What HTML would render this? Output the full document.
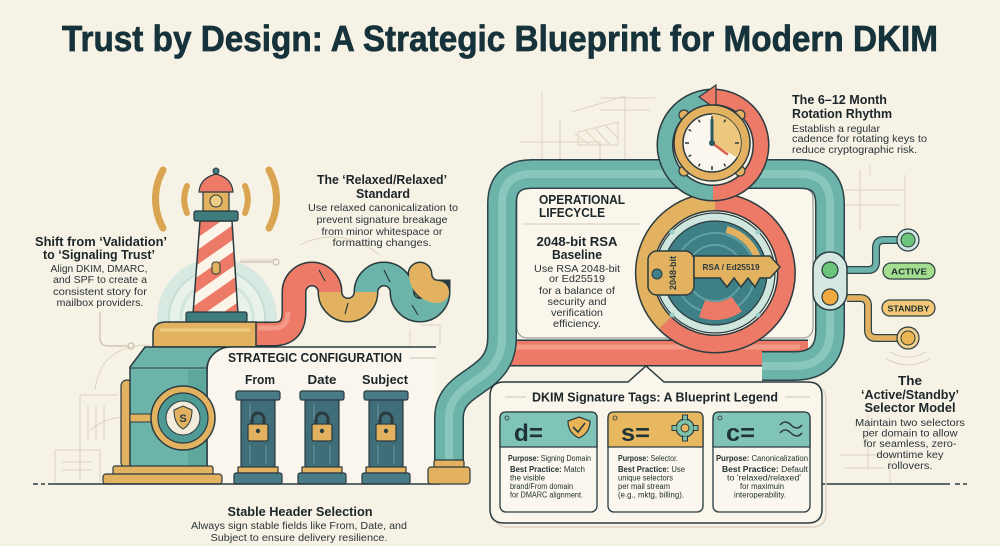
<!DOCTYPE html>
<html><head><meta charset="utf-8"><style>
html,body{margin:0;padding:0;background:#f7f2e6;width:1000px;height:546px;overflow:hidden;}
svg{display:block;font-family:"Liberation Sans",Arial,sans-serif;}
.h{font-weight:bold;font-size:13px;fill:#1c2629;}
.d{font-size:10.5px;fill:#2a3336;}
.c{font-size:7.8px;fill:#22302f;}
.b{font-weight:bold;}
</style></head><body>
<svg width="1000" height="546" viewBox="0 0 1000 546" xmlns="http://www.w3.org/2000/svg">
<defs>
<pattern id="st" width="22" height="22" patternUnits="userSpaceOnUse" patternTransform="rotate(-35)">
<rect width="22" height="22" fill="#ec7a66"/><rect width="22" height="10" fill="#fbf4e8"/>
</pattern>
</defs>
<rect width="1000" height="546" fill="#f7f2e6"/>

<!-- faint blueprint sketches -->
<g fill="none" stroke="#ddd3c1" stroke-width="1">
<path d="M542 92 L542 160 M520 142 L600 142 L600 160 M572 112 L625 96 L625 160 M578 132 L618 122 L618 145 L578 145 Z M600 98 L655 98 M600 110 L650 110 M560 120 L560 160"/>
<path d="M575 134 L590 145 M585 130 L600 145 M595 128 L610 145 M605 125 L618 138"/>
<path d="M860 170 L860 230 M845 190 L905 190 M845 205 L900 205 M905 175 L905 235 M870 165 L870 175"/>
<path d="M80 395 L80 480 M80 395 L118 395 M88 405 L88 440 M96 405 L96 440 M104 405 L104 440 M55 450 L100 450 L100 482 M55 450 L55 482 M62 462 L92 462 M62 470 L92 470"/>
<path d="M95 390 Q100 345 150 345 M90 430 Q110 415 128 418"/>
<path d="M240 260 L276 260 M300 245 Q340 225 380 255 M410 330 L410 380 M420 325 L440 325 L440 345"/>
<path d="M525 300 L525 335 L600 335 M700 300 L780 300"/>
<path d="M868 415 L868 470 M840 455 L890 455 L890 484 M845 468 L885 468"/>
<path d="M760 420 L760 460 M300 380 Q300 400 310 405"/>
</g>
<g fill="none" stroke="#c9bfae" stroke-width="1.2">
<path d="M100 312 L100 338 Q100 346 108 346 L128 346"/>
<circle cx="131" cy="346" r="3"/>
<path d="M240 262 L272 262"/><circle cx="276" cy="262" r="3"/>
<path d="M419 450 L419 476"/><circle cx="419" cy="480" r="3"/>
</g>

<!-- Title -->
<text x="500" y="51" text-anchor="middle" font-size="36" font-weight="bold" fill="#16323a" stroke="#16323a" stroke-width="0.7" textLength="876" lengthAdjust="spacingAndGlyphs">Trust by Design: A Strategic Blueprint for Modern DKIM</text>

<!-- Lighthouse halo -->
<circle cx="217" cy="318" r="60" fill="#d8e9e1"/>
<circle cx="217" cy="318" r="48" fill="#e8f1ea" stroke="#c6ded5" stroke-width="2"/>
<circle cx="217" cy="318" r="36" fill="none" stroke="#d2e5de" stroke-width="3"/>

<!-- signal arcs -->
<g fill="none" stroke="#d9a551" stroke-linecap="round">
<path d="M163 170 A60 60 0 0 0 163 228" stroke-width="7"/>
<path d="M187 186 A35 35 0 0 0 187 213" stroke-width="6"/>
<path d="M269 170 A60 60 0 0 1 269 228" stroke-width="7"/>
<path d="M245 186 A35 35 0 0 1 245 213" stroke-width="6"/>
</g>

<!-- Lighthouse -->
<polygon points="200,221 232,221 238,314 193,314" fill="url(#st)" stroke="#2a3b3f" stroke-width="1.5"/>
<rect x="212" y="262" width="8" height="12" rx="3" fill="#e2b261" stroke="#2a3b3f" stroke-width="1"/>
<rect x="194" y="211" width="44" height="10" rx="2" fill="#3f7c7e" stroke="#2a3b3f" stroke-width="1.2"/>
<rect x="203" y="191" width="26" height="20" fill="#e2b261" stroke="#2a3b3f" stroke-width="1.2"/>
<circle cx="216" cy="201" r="6" fill="#f0cd85" stroke="#2a3b3f" stroke-width="1"/>
<path d="M199 192 Q200 178 216 174 Q232 178 233 192 Z" fill="#ec7a66" stroke="#2a3b3f" stroke-width="1.2"/>
<circle cx="216" cy="171" r="3" fill="#3f7c7e" stroke="#2a3b3f" stroke-width="1"/>
<rect x="186" y="312" width="61" height="10" rx="2" fill="#3f7c7e" stroke="#2a3b3f" stroke-width="1.2"/>

<!-- Coral chain (drawn before platform) -->
<path d="M240 334 L274 334 Q294 334 294 312 L294 292 A18 18 0 0 1 330 292 A18 18 0 0 0 366 292 A18 18 0 0 1 402 292 A18 18 0 0 0 438 292 A18 18 0 0 1 420 274" fill="none" stroke="#2a3b3f" stroke-width="25" stroke-linecap="round"/>
<path d="M240 334 L274 334 Q294 334 294 312 L294 292 A18 18 0 0 1 330 292" fill="none" stroke="#ec7a66" stroke-width="22"/>
<path d="M330 292 A18 18 0 0 0 366 292" fill="none" stroke="#e2b261" stroke-width="22"/>
<path d="M366 292 A18 18 0 0 1 402 292 A18 18 0 0 0 438 292" fill="none" stroke="#6cb3a9" stroke-width="22"/>
<path d="M438 292 A18 18 0 0 1 420 274" fill="none" stroke="#e2b261" stroke-width="22" stroke-linecap="round"/>
<path d="M258 328 L274 328 Q288 328 288 312" fill="none" stroke="#f49b87" stroke-width="5"/>
<g stroke="#2a3b3f" stroke-width="1.2"><path d="M319 270 L325 281 M348 303 L345 314 M384 270 L390 282 M412 305 L418 315"/></g>

<!-- Platform -->
<path d="M153 347 L153 334 Q153 322 166 322 L256 322 L256 347 Z" fill="#e2b261" stroke="#2a3b3f" stroke-width="1.5"/>
<path d="M160 330 L250 330" stroke="#f0cd85" stroke-width="3"/>

<!-- Strategic panel -->
<path d="M207 484 L207 372 Q207 347 232 347 L436 347 L436 484 Z" fill="#faf6ee"/>
<path d="M207 484 L207 372 Q207 347 232 347 L436 347" fill="none" stroke="#2a3b3f" stroke-width="1.5"/>
<path d="M410 358 L436 358" stroke="#cfc5b3" stroke-width="1"/>

<!-- Machine -->
<rect x="121" y="380" width="12" height="88" rx="6" fill="#e2b261" stroke="#2a3b3f" stroke-width="1.2"/>
<path d="M130 367 L145 347 L226 347 Q210 352 207 366 L207 467 L130 467 Z" fill="#6cb3a9" stroke="#2a3b3f" stroke-width="1.5"/>
<path d="M130 368 L207 368" stroke="#2a3b3f" stroke-width="1"/>
<rect x="188" y="370" width="18" height="96" fill="#5ea79d"/>
<rect x="130" y="414" width="24" height="8" fill="#e2b261" stroke="#2a3b3f" stroke-width="1"/>
<circle cx="183" cy="418" r="32" fill="#e2b261" stroke="#2a3b3f" stroke-width="1.5"/>
<circle cx="183" cy="418" r="25" fill="#4f9a95" stroke="#2a3b3f" stroke-width="1.2"/>
<circle cx="183" cy="418" r="17" fill="#f3ecdc" stroke="#2a3b3f" stroke-width="1"/>
<path d="M174 410 L183 406 L192 410 Q192 424 183 429 Q174 424 174 410 Z" fill="#e2b261" stroke="#2a3b3f" stroke-width="1"/>
<text x="183" y="422" text-anchor="middle" font-size="11" font-weight="bold" fill="#2a3b3f">S</text>
<rect x="113" y="466" width="100" height="9" rx="2" fill="#e2b261" stroke="#2a3b3f" stroke-width="1.2"/>
<rect x="103" y="474" width="119" height="10" rx="3" fill="#e2b261" stroke="#2a3b3f" stroke-width="1.2"/>

<!-- Pillars -->
<g stroke="#2a3b3f" stroke-width="1.2">
<g>
<rect x="236" y="391" width="44" height="9" rx="2" fill="#4a7c88"/>
<rect x="241" y="400" width="34" height="68" fill="#3f6e7a"/>
<rect x="238" y="467" width="40" height="6" fill="#e2b261"/>
<rect x="234" y="473" width="48" height="11" rx="2" fill="#4a7c88"/>
<path d="M252 424 L252 419 A6 6 0 0 1 264 419 L264 424" fill="none" stroke-width="3"/>
<rect x="248" y="424" width="20" height="17" rx="2" fill="#e2b261"/>
</g>
<g>
<rect x="300" y="391" width="44" height="9" rx="2" fill="#4a7c88"/>
<rect x="305" y="400" width="34" height="68" fill="#3f6e7a"/>
<rect x="302" y="467" width="40" height="6" fill="#e2b261"/>
<rect x="298" y="473" width="48" height="11" rx="2" fill="#4a7c88"/>
<path d="M316 424 L316 419 A6 6 0 0 1 328 419 L328 424" fill="none" stroke-width="3"/>
<rect x="312" y="424" width="20" height="17" rx="2" fill="#e2b261"/>
</g>
<g>
<rect x="364" y="391" width="44" height="9" rx="2" fill="#4a7c88"/>
<rect x="369" y="400" width="34" height="68" fill="#3f6e7a"/>
<rect x="366" y="467" width="40" height="6" fill="#e2b261"/>
<rect x="362" y="473" width="48" height="11" rx="2" fill="#4a7c88"/>
<path d="M380 424 L380 419 A6 6 0 0 1 392 419 L392 424" fill="none" stroke-width="3"/>
<rect x="376" y="424" width="20" height="17" rx="2" fill="#e2b261"/>
</g>
</g>
<g fill="#2a3b3f"><circle cx="258" cy="431" r="2.2"/><circle cx="322" cy="431" r="2.2"/><circle cx="386" cy="431" r="2.2"/></g>
<g stroke="#5b8a94" stroke-width="1.5"><path d="M250 404 L250 420 M250 445 L250 464 M266 445 L266 464 M314 404 L314 420 M314 445 L314 464 M330 445 L330 464 M378 404 L378 420 M378 445 L378 464 M394 445 L394 464"/></g>

<!-- baselines -->
<path d="M48 484 L440 484" stroke="#2a3b3f" stroke-width="1.5"/>
<path d="M33 484 L38 484 M41 484 L45 484" stroke="#2a3b3f" stroke-width="1.5"/>
<path d="M822 484 L950 484" stroke="#2a3b3f" stroke-width="1.5"/>
<path d="M955 484 L960 484 M963 484 L967 484" stroke="#2a3b3f" stroke-width="1.5"/>

<!-- Strategic texts -->
<text x="228" y="362" font-size="12.5" font-weight="bold" fill="#1c2629" textLength="174" lengthAdjust="spacingAndGlyphs">STRATEGIC CONFIGURATION</text>
<text x="260" y="384" text-anchor="middle" class="h" font-size="12" textLength="30" lengthAdjust="spacingAndGlyphs">From</text>
<text x="322" y="384" text-anchor="middle" class="h" font-size="12" textLength="29" lengthAdjust="spacingAndGlyphs">Date</text>
<text x="385" y="384" text-anchor="middle" class="h" font-size="12" textLength="46" lengthAdjust="spacingAndGlyphs">Subject</text>
<text x="300" y="516" text-anchor="middle" class="h" textLength="145" lengthAdjust="spacingAndGlyphs">Stable Header Selection</text>
<text x="299" y="529" text-anchor="middle" class="d" textLength="216" lengthAdjust="spacingAndGlyphs">Always sign stable fields like From, Date, and</text>
<text x="299" y="541" text-anchor="middle" class="d" textLength="177" lengthAdjust="spacingAndGlyphs">Subject to ensure delivery resilience.</text>

<!-- Left texts -->
<text x="101" y="246" text-anchor="middle" class="h" textLength="132" lengthAdjust="spacingAndGlyphs">Shift from ‘Validation’</text>
<text x="99" y="259" text-anchor="middle" class="h" textLength="112" lengthAdjust="spacingAndGlyphs">to ‘Signaling Trust’</text>
<text x="99" y="272" text-anchor="middle" class="d" textLength="97" lengthAdjust="spacingAndGlyphs">Align DKIM, DMARC,</text>
<text x="100" y="283" text-anchor="middle" class="d" textLength="94" lengthAdjust="spacingAndGlyphs">and SPF to create a</text>
<text x="100" y="295" text-anchor="middle" class="d" textLength="94" lengthAdjust="spacingAndGlyphs">consistent story for</text>
<text x="100" y="306" text-anchor="middle" class="d" textLength="87" lengthAdjust="spacingAndGlyphs">mailbox providers.</text>

<!-- Relaxed texts -->
<text x="382" y="184" text-anchor="middle" class="h" textLength="130" lengthAdjust="spacingAndGlyphs">The ‘Relaxed/Relaxed’</text>
<text x="383" y="198" text-anchor="middle" class="h" textLength="54" lengthAdjust="spacingAndGlyphs">Standard</text>
<text x="383" y="211" text-anchor="middle" class="d" textLength="150" lengthAdjust="spacingAndGlyphs">Use relaxed canonicalization to</text>
<text x="382" y="223" text-anchor="middle" class="d" textLength="131" lengthAdjust="spacingAndGlyphs">prevent signature breakage</text>
<text x="382" y="235" text-anchor="middle" class="d" textLength="121" lengthAdjust="spacingAndGlyphs">from minor whitespace or</text>
<text x="382" y="246" text-anchor="middle" class="d" textLength="99" lengthAdjust="spacingAndGlyphs">formatting changes.</text>

<!-- Operational panel -->
<rect x="517" y="188" width="296" height="150" rx="10" fill="#faf6ec" stroke="#7d8a88" stroke-width="1"/>
<path d="M522 224 L640 224" stroke="#d6ccba" stroke-width="1"/>

<!-- coral band -->
<path d="M500 353 L808 353" stroke="#2a3b3f" stroke-width="27"/>
<path d="M500 353 L808 353" stroke="#ec7a66" stroke-width="24"/>
<path d="M500 347 L800 347" stroke="#f49b87" stroke-width="5"/>

<!-- teal pipe -->
<path d="M449 470 L449 418 C449 378 502 385 502 338 L502 204 Q502 174 532 174 L800 174 Q830 174 830 204 L830 330 Q830 366 794 366 L762 366" fill="none" stroke="#2a4448" stroke-width="30"/>
<path d="M449 470 L449 418 C449 378 502 385 502 338 L502 204 Q502 174 532 174 L800 174 Q830 174 830 204 L830 330 Q830 366 794 366 L762 366" fill="none" stroke="#6cb3a9" stroke-width="27"/>
<path d="M449 470 L449 418 C449 378 502 385 502 338 L502 204 Q502 174 532 174 L800 174 Q830 174 830 204 L830 330 Q830 366 794 366 L762 366" fill="none" stroke="#95d0c6" stroke-width="8" opacity="0.7"/>
<rect x="434" y="460" width="30" height="8" rx="2" fill="#e2b261" stroke="#2a3b3f" stroke-width="1.2"/>
<rect x="428" y="467" width="42" height="17" rx="3" fill="#e2b261" stroke="#2a3b3f" stroke-width="1.2"/>

<!-- Operational texts -->
<text x="539" y="204" class="h" textLength="86" lengthAdjust="spacingAndGlyphs">OPERATIONAL</text>
<text x="539" y="217" class="h" textLength="66" lengthAdjust="spacingAndGlyphs">LIFECYCLE</text>
<text x="577" y="246" text-anchor="middle" class="h" textLength="81" lengthAdjust="spacingAndGlyphs">2048-bit RSA</text>
<text x="577" y="259" text-anchor="middle" class="h" textLength="50" lengthAdjust="spacingAndGlyphs">Baseline</text>
<text x="577" y="272" text-anchor="middle" class="d" textLength="86" lengthAdjust="spacingAndGlyphs">Use RSA 2048-bit</text>
<text x="577" y="282" text-anchor="middle" class="d" textLength="56" lengthAdjust="spacingAndGlyphs">or Ed25519</text>
<text x="577" y="294" text-anchor="middle" class="d" textLength="76" lengthAdjust="spacingAndGlyphs">for a balance of</text>
<text x="577" y="305" text-anchor="middle" class="d" textLength="59" lengthAdjust="spacingAndGlyphs">security and</text>
<text x="577" y="316" text-anchor="middle" class="d" textLength="52" lengthAdjust="spacingAndGlyphs">verification</text>
<text x="577" y="327" text-anchor="middle" class="d" textLength="48" lengthAdjust="spacingAndGlyphs">efficiency.</text>

<!-- Bottom ring of 8 -->
<circle cx="715" cy="273" r="62" fill="#f7f2e6"/>
<path d="M715 202 A71 71 0 1 1 665 323" fill="none" stroke="#2a3b3f" stroke-width="19"/>
<path d="M665 323 A71 71 0 0 1 715 202" fill="none" stroke="#2a3b3f" stroke-width="19"/>
<path d="M715 202 A71 71 0 1 1 665 323" fill="none" stroke="#ec7a66" stroke-width="16"/>
<path d="M665 323 A71 71 0 0 1 715 202" fill="none" stroke="#e2b261" stroke-width="16"/>
<circle cx="715" cy="273" r="60" fill="#cfe6df" stroke="#2a3b3f" stroke-width="1.2"/>
<circle cx="715" cy="273" r="52" fill="#3f7f86" stroke="#2a3b3f" stroke-width="1.2"/>
<circle cx="715" cy="273" r="40" fill="none" stroke="#62a1a3" stroke-width="2"/>
<circle cx="715" cy="273" r="28" fill="none" stroke="#62a1a3" stroke-width="2"/>
<path d="M726.6 229.5 A45 45 0 0 1 758.5 261.4" fill="none" stroke="#e2b261" stroke-width="7"/>
<path d="M736.8 304.1 A38 38 0 0 1 702 308.7" fill="none" stroke="#ec7a66" stroke-width="18"/>
<g fill="#9ccfc5"><circle cx="672" cy="232" r="2.5"/><circle cx="758" cy="232" r="2.5"/><circle cx="672" cy="315" r="2.5"/><circle cx="758" cy="315" r="2.5"/></g>

<!-- Key -->
<rect x="648" y="251" width="46" height="44" rx="9" fill="#e2b261" stroke="#2a3b3f" stroke-width="1.5"/>
<circle cx="657" cy="274" r="5" fill="#3f7f86" stroke="#2a3b3f" stroke-width="1"/>
<path d="M694 256 L770 256 L780 267 L770 278 L760 278 L755 287 L748 278 L741 287 L734 278 L727 287 L720 278 L694 278 Z" fill="#e2b261" stroke="#2a3b3f" stroke-width="1.5"/>
<text x="0" y="0" transform="translate(676 273) rotate(-90)" text-anchor="middle" font-size="9" font-weight="bold" fill="#2a3b3f" textLength="34" lengthAdjust="spacingAndGlyphs">2048-bit</text>
<text x="731" y="270" text-anchor="middle" font-size="8.5" font-weight="bold" fill="#2a3b3f" textLength="57" lengthAdjust="spacingAndGlyphs">RSA / Ed25519</text>

<!-- Top ring of 8 -->
<circle cx="713" cy="145" r="42" fill="#f7f2e6"/>
<path d="M713 193 A48 48 0 0 1 713 97" fill="none" stroke="#2a3b3f" stroke-width="17"/>
<path d="M713 97 A48 48 0 0 1 713 193" fill="none" stroke="#2a3b3f" stroke-width="17"/>
<path d="M713 193 A48 48 0 0 1 713 97" fill="none" stroke="#6cb3a9" stroke-width="14"/>
<path d="M713 97 A48 48 0 0 1 713 193" fill="none" stroke="#ec7a66" stroke-width="14"/>
<polygon points="699,97 716,85 716,109" fill="#ec7a66" stroke="#2a3b3f" stroke-width="1.2"/>

<!-- Clock -->
<g fill="#e2b261" stroke="#2a3b3f" stroke-width="1.2">
<circle cx="684" cy="115" r="5"/><circle cx="740" cy="115" r="5"/><circle cx="684" cy="171" r="5"/><circle cx="740" cy="171" r="5"/>
</g>
<circle cx="712" cy="143" r="38" fill="#e2b261" stroke="#2a3b3f" stroke-width="1.5"/>
<circle cx="712" cy="143" r="29" fill="#fbf7ee" stroke="#2a3b3f" stroke-width="1.5"/>
<path d="M712 143 L712 114 A29 29 0 0 1 737.1 157.5 Z" fill="#eec77e"/>
<g stroke="#2a3b3f" stroke-width="1.5">
<path d="M712 116 L712 120 M712 166 L712 170 M685 143 L689 143 M735 143 L739 143 M698.5 119.6 L700 122.2 M725.5 119.6 L724 122.2 M698.5 166.4 L700 163.8 M725.5 166.4 L724 163.8 M688.6 129.5 L691.2 131 M688.6 156.5 L691.2 155"/>
</g>
<path d="M712 143 L712 120" stroke="#2b5960" stroke-width="3" stroke-linecap="round"/>
<path d="M712 143 L727 154" stroke="#d9604e" stroke-width="2.5" stroke-linecap="round"/>
<circle cx="712" cy="143" r="3" fill="#2b5960"/>

<!-- Selector gadget -->
<path d="M847 270 L868 270 Q876 270 876 262 L876 248 Q876 240 884 240 L900 240" fill="none" stroke="#2a4448" stroke-width="8"/>
<path d="M847 270 L868 270 Q876 270 876 262 L876 248 Q876 240 884 240 L900 240" fill="none" stroke="#6cb3a9" stroke-width="5.5"/>
<path d="M847 298 L860 298 Q868 298 868 306 L868 330 Q868 338 876 338 L900 338" fill="none" stroke="#2a4448" stroke-width="8"/>
<path d="M847 298 L860 298 Q868 298 868 306 L868 330 Q868 338 876 338 L900 338" fill="none" stroke="#e2b261" stroke-width="5.5"/>
<circle cx="908" cy="240" r="11" fill="#cfe6df" stroke="#2a3b3f" stroke-width="1.2"/>
<circle cx="908" cy="240" r="7" fill="#6cc47a" stroke="#2a3b3f" stroke-width="1"/>
<circle cx="908" cy="338" r="11" fill="#f0d08e" stroke="#2a3b3f" stroke-width="1.2"/>
<circle cx="908" cy="338" r="7" fill="#eab552" stroke="#2a3b3f" stroke-width="1"/>
<path d="M890 352 Q908 362 926 352 M885 358 Q908 372 931 358" fill="none" stroke="#d8cebd" stroke-width="1"/>
<rect x="813" y="252" width="34" height="58" rx="17" fill="#d5e7e1" stroke="#2a3b3f" stroke-width="1.5"/>
<circle cx="830" cy="270" r="8" fill="#6cc47a" stroke="#2a3b3f" stroke-width="1.2"/>
<circle cx="830" cy="297" r="8" fill="#f0a840" stroke="#2a3b3f" stroke-width="1.2"/>
<rect x="883" y="263" width="52" height="16" rx="8" fill="#a3dd90" stroke="#2a3b3f" stroke-width="1.2"/>
<text x="909" y="274.5" text-anchor="middle" font-size="8.5" font-weight="bold" fill="#22302f" textLength="36" lengthAdjust="spacingAndGlyphs">ACTIVE</text>
<rect x="882" y="300" width="53" height="16" rx="8" fill="#f3c877" stroke="#2a3b3f" stroke-width="1.2"/>
<text x="908.5" y="311.5" text-anchor="middle" font-size="8.5" font-weight="bold" fill="#22302f" textLength="42" lengthAdjust="spacingAndGlyphs">STANDBY</text>

<!-- Rotation text -->
<text x="792" y="104" class="h" textLength="95" lengthAdjust="spacingAndGlyphs">The 6–12 Month</text>
<text x="792" y="118" class="h" textLength="100" lengthAdjust="spacingAndGlyphs">Rotation Rhythm</text>
<text x="792" y="132" class="d" textLength="88" lengthAdjust="spacingAndGlyphs">Establish a regular</text>
<text x="792" y="142" class="d" textLength="135" lengthAdjust="spacingAndGlyphs">cadence for rotating keys to</text>
<text x="792" y="153" class="d" textLength="125" lengthAdjust="spacingAndGlyphs">reduce cryptographic risk.</text>

<!-- Active/standby text -->
<text x="910" y="385" text-anchor="middle" class="h" textLength="24" lengthAdjust="spacingAndGlyphs">The</text>
<text x="910" y="399" text-anchor="middle" class="h" textLength="98" lengthAdjust="spacingAndGlyphs">‘Active/Standby’</text>
<text x="910" y="412" text-anchor="middle" class="h" textLength="91" lengthAdjust="spacingAndGlyphs">Selector Model</text>
<text x="910" y="426" text-anchor="middle" class="d" textLength="110" lengthAdjust="spacingAndGlyphs">Maintain two selectors</text>
<text x="910" y="436.5" text-anchor="middle" class="d" textLength="95" lengthAdjust="spacingAndGlyphs">per domain to allow</text>
<text x="910" y="447" text-anchor="middle" class="d" textLength="93" lengthAdjust="spacingAndGlyphs">for seamless, zero-</text>
<text x="910" y="458" text-anchor="middle" class="d" textLength="67" lengthAdjust="spacingAndGlyphs">downtime key</text>
<text x="910" y="469" text-anchor="middle" class="d" textLength="45" lengthAdjust="spacingAndGlyphs">rollovers.</text>

<!-- Legend box -->
<path d="M508 386 L632 386 L650 370 L668 386 L812 386 Q826 386 826 400 L826 513 Q826 527 812 527 L508 527 Q494 527 494 513 L494 400 Q494 386 508 386 Z" fill="none" stroke="#ddd3c1" stroke-width="1.5"/>
<path d="M504 382 L628 382 L646 366 L664 382 L808 382 Q822 382 822 396 L822 509 Q822 523 808 523 L504 523 Q490 523 490 509 L490 396 Q490 382 504 382 Z" fill="#faf6ec" stroke="#2a3b3f" stroke-width="1.5"/>
<path d="M505 397 L526 397 M785 397 L810 397" stroke="#cfc5b3" stroke-width="1"/>
<text x="655" y="401.5" text-anchor="middle" font-size="13" font-weight="bold" fill="#1c2629" textLength="246" lengthAdjust="spacingAndGlyphs">DKIM Signature Tags: A Blueprint Legend</text>

<!-- Cards -->
<g stroke="#2a3b3f" stroke-width="1.3">
<rect x="500" y="412" width="97" height="100" rx="6" fill="#fbf7ee"/>
<path d="M506 412 L591 412 Q597 412 597 418 L597 447 L500 447 L500 418 Q500 412 506 412 Z" fill="#80c3b7"/>
<rect x="608" y="412" width="95" height="100" rx="6" fill="#fbf7ee"/>
<path d="M614 412 L697 412 Q703 412 703 418 L703 447 L608 447 L608 418 Q608 412 614 412 Z" fill="#e8b860"/>
<rect x="713" y="412" width="97" height="100" rx="6" fill="#fbf7ee"/>
<path d="M719 412 L804 412 Q810 412 810 418 L810 447 L713 447 L713 418 Q713 412 719 412 Z" fill="#80c3b7"/>
</g>
<g fill="none" stroke="#2a3b3f" stroke-width="0.8"><circle cx="507" cy="418" r="2"/><circle cx="615" cy="418" r="2"/><circle cx="720" cy="418" r="2"/></g>
<text x="514" y="441" font-size="24" font-weight="bold" fill="#1d3338" textLength="29" lengthAdjust="spacingAndGlyphs">d=</text>
<text x="621" y="441" font-size="24" font-weight="bold" fill="#1d3338" textLength="29" lengthAdjust="spacingAndGlyphs">s=</text>
<text x="726" y="441" font-size="24" font-weight="bold" fill="#1d3338" textLength="29" lengthAdjust="spacingAndGlyphs">c=</text>
<!-- icons -->
<path d="M568 421 L579 417 L590 421 Q590 433 579 438 Q568 433 568 421 Z" fill="#e8b455" stroke="#2a3b3f" stroke-width="1.2"/>
<path d="M573 427 L578 432 L585 423" fill="none" stroke="#2a3b3f" stroke-width="1.6"/>
<g transform="translate(685 428)">
<circle r="9" fill="#7fc2a9" stroke="#2a3b3f" stroke-width="1.2"/>
<g fill="#7fc2a9" stroke="#2a3b3f" stroke-width="1"><rect x="-2.5" y="-13" width="5" height="5"/><rect x="-2.5" y="8" width="5" height="5"/><rect x="-13" y="-2.5" width="5" height="5"/><rect x="8" y="-2.5" width="5" height="5"/></g>
<circle r="8" fill="#7fc2a9"/>
<circle r="4" fill="#e8b860" stroke="#2a3b3f" stroke-width="1"/>
</g>
<path d="M780 425 Q785 419 791 425 Q797 431 802 425 M780 433 Q785 427 791 433 Q797 439 802 433" fill="none" stroke="#2a3b3f" stroke-width="1.5"/>

<!-- card texts -->
<text x="508" y="461" class="c" textLength="83" lengthAdjust="spacingAndGlyphs"><tspan class="b">Purpose:</tspan> Signing Domain</text>
<text x="510" y="472" class="c" textLength="75" lengthAdjust="spacingAndGlyphs"><tspan class="b">Best Practice:</tspan> Match</text>
<text x="510" y="480.5" class="c" textLength="35" lengthAdjust="spacingAndGlyphs">the visible</text>
<text x="510" y="489" class="c" textLength="63" lengthAdjust="spacingAndGlyphs">brand/From domain</text>
<text x="510" y="497.5" class="c" textLength="73" lengthAdjust="spacingAndGlyphs">for DMARC alignment.</text>

<text x="618" y="461" class="c" textLength="60" lengthAdjust="spacingAndGlyphs"><tspan class="b">Purpose:</tspan> Selector.</text>
<text x="618" y="472" class="c" textLength="67" lengthAdjust="spacingAndGlyphs"><tspan class="b">Best Practice:</tspan> Use</text>
<text x="618" y="480.5" class="c" textLength="55" lengthAdjust="spacingAndGlyphs">unique selectors</text>
<text x="618" y="489" class="c" textLength="52" lengthAdjust="spacingAndGlyphs">per mail stream</text>
<text x="618" y="497.5" class="c" textLength="66" lengthAdjust="spacingAndGlyphs">(e.g., mktg, billing).</text>

<text x="716" y="461" class="c" textLength="92" lengthAdjust="spacingAndGlyphs"><tspan class="b">Purpose:</tspan> Canonicalization</text>
<text x="765" y="472" text-anchor="middle" class="c" textLength="86" lengthAdjust="spacingAndGlyphs"><tspan class="b">Best Practice:</tspan> Default</text>
<text x="764" y="480.5" text-anchor="middle" class="c" textLength="74" lengthAdjust="spacingAndGlyphs">to 'relaxed/relaxed'</text>
<text x="762" y="489" text-anchor="middle" class="c" textLength="44" lengthAdjust="spacingAndGlyphs">for maximuin</text>
<text x="760" y="497.5" text-anchor="middle" class="c" textLength="52" lengthAdjust="spacingAndGlyphs">interoperability.</text>
</svg>
</body></html>
